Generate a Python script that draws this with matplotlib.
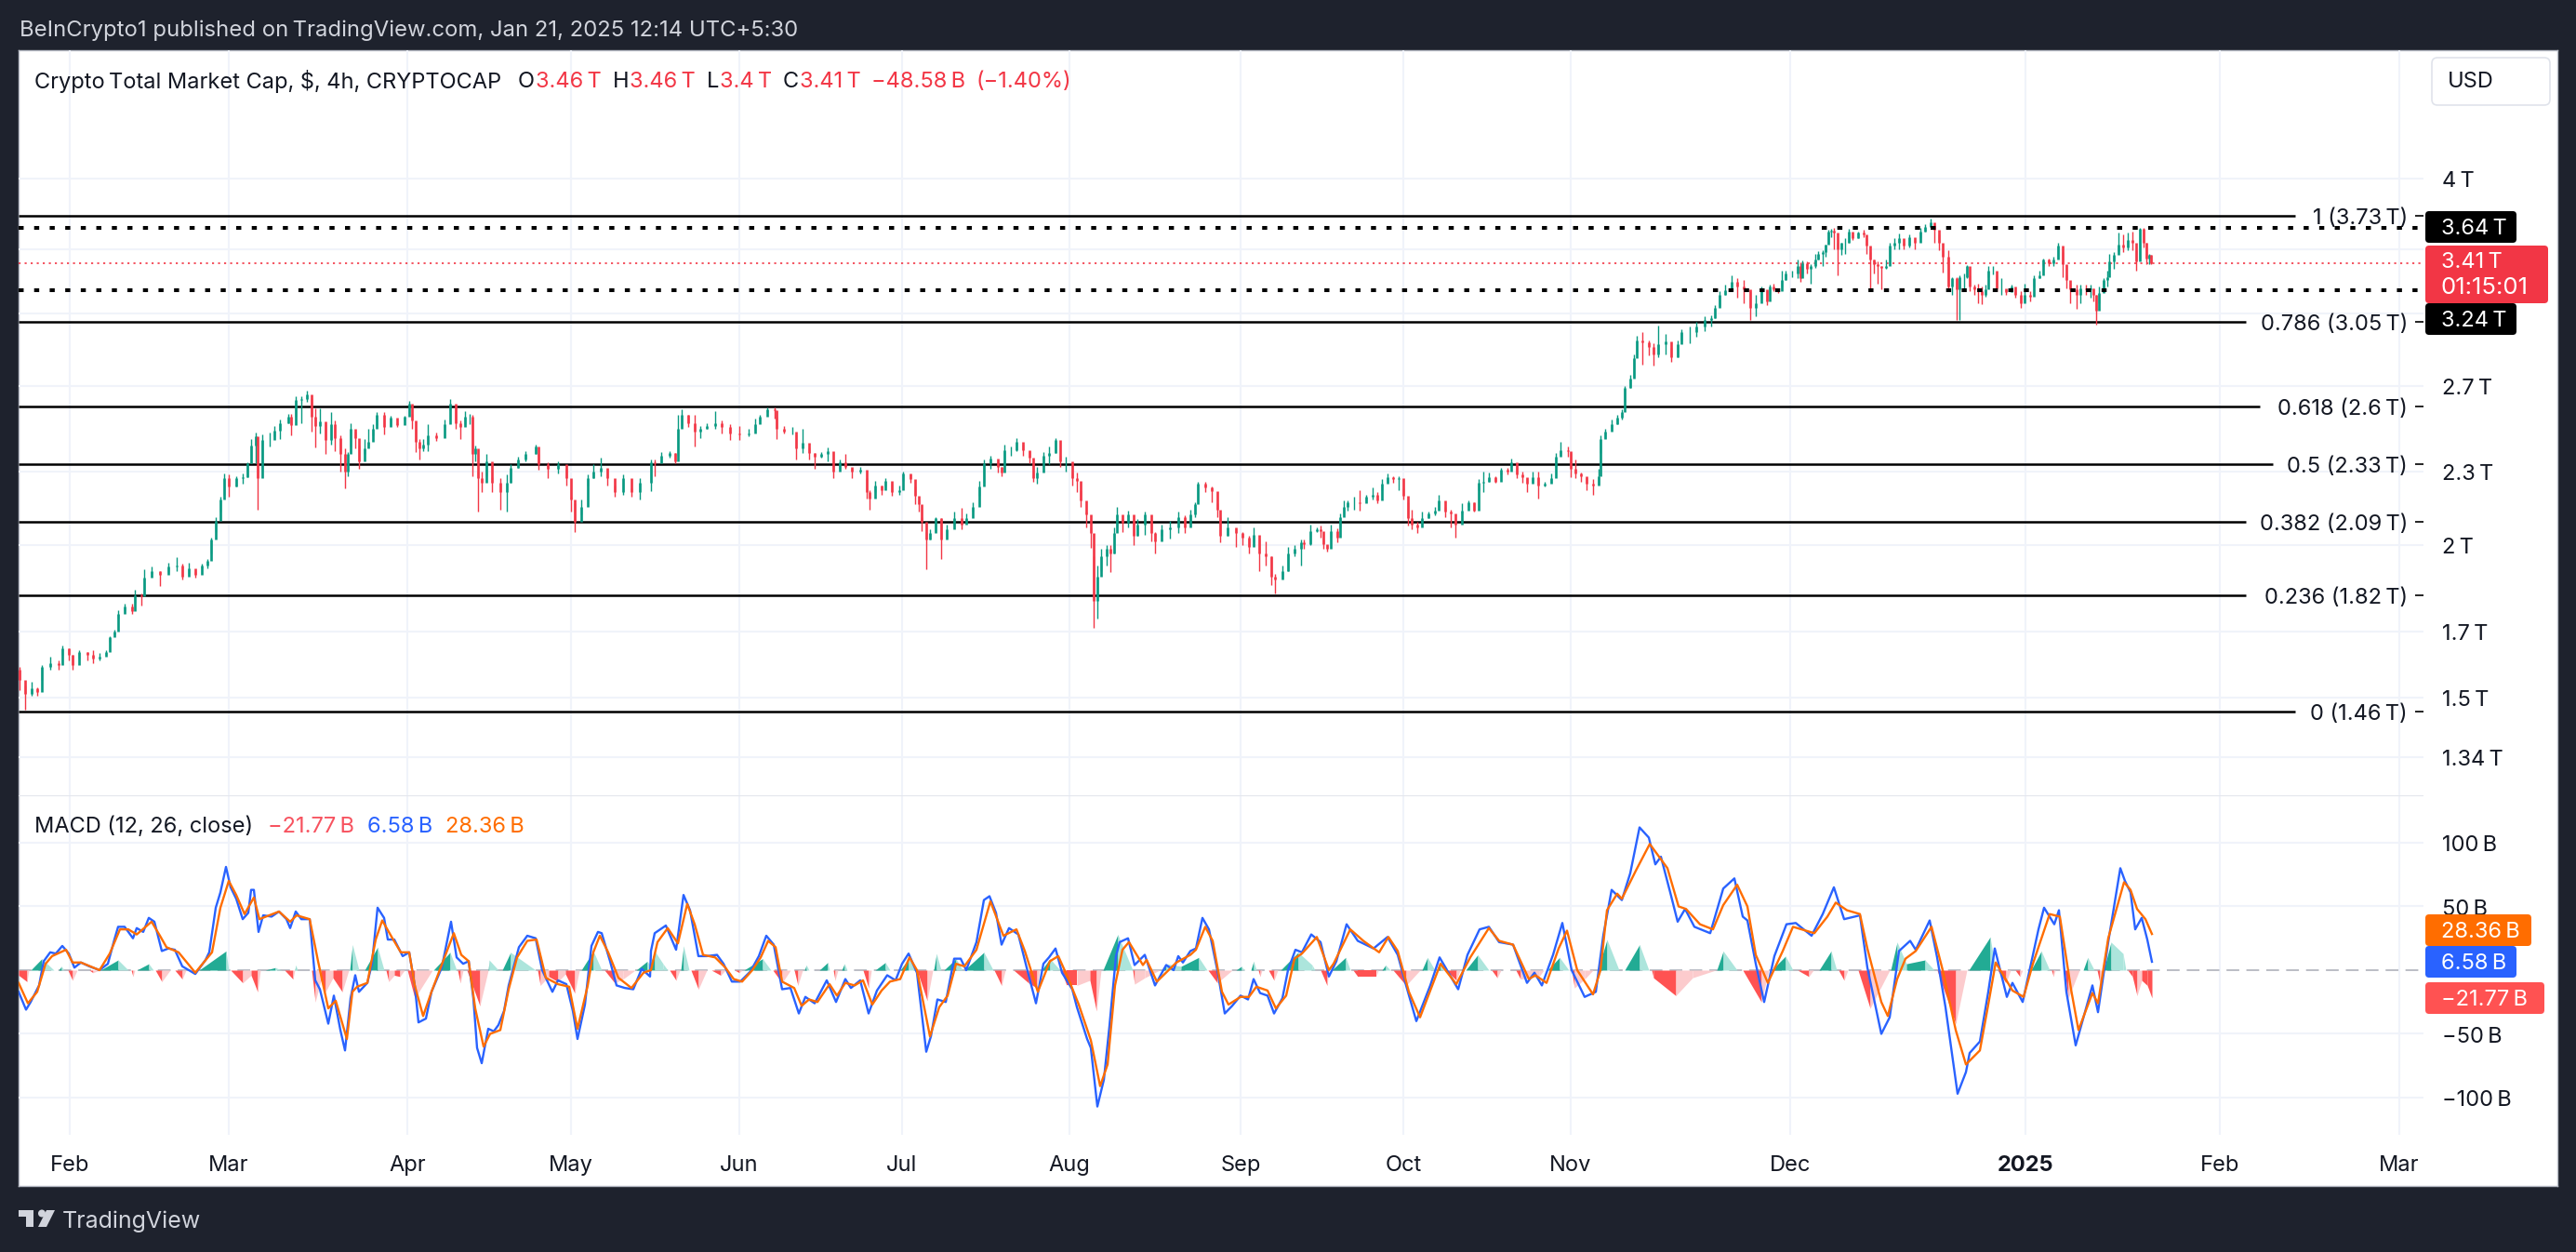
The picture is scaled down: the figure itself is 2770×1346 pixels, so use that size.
import matplotlib
matplotlib.use("Agg")
import matplotlib.pyplot as plt
from matplotlib.patches import FancyBboxPatch, Circle, Polygon
from matplotlib.ticker import NullLocator

W, H = 2770, 1346
FONT = ["Inter", "DejaVu Sans"]
plt.rcParams["font.family"] = FONT

DARK = "#1e222d"
GRID = "#f0f3fa"
UP = "#089981"
DOWN = "#f23645"
BLUE = "#2962ff"
ORANGE = "#ff6d00"
TS = "\u2009"

# ---------- 数据：K线 (时间位置, 收, 高, 低，单位 T) ----------
bar_t = [21, 27, 33.5, 40, 45, 54, 62.5, 67, 74, 78, 85, 94,
         100, 107, 114, 118, 123, 127, 134, 142, 145, 152, 155, 163,
         172, 181, 190, 196, 203, 210, 217, 223, 227, 232, 237, 241,
         246, 254, 261, 266, 270, 275, 277, 282, 290, 295, 301, 310,
         313, 318, 324, 330, 335, 339, 344, 350, 356, 360, 366, 371,
         374, 377, 382, 386, 392, 396, 401, 405, 413, 420, 427, 435,
         440, 443, 447, 451, 454.5, 460, 469, 478, 483.5, 490, 495, 500,
         505, 508, 511, 514, 518, 523, 529, 538, 545, 549, 557, 565,
         576, 579, 589, 600, 609, 614, 618, 625, 632, 638, 646, 653,
         661, 670, 679, 688,
         700, 704, 711, 720, 726, 729, 733, 740, 747, 753, 760, 769,
         776, 785, 795, 805, 812, 817, 825, 833, 835, 843, 852, 856,
         863, 870, 876, 883, 890, 896, 903, 909, 916, 925, 932, 935,
         941, 948, 952, 959, 967, 971, 979, 984, 988, 991, 996, 1000,
         1006, 1012, 1018, 1026, 1034, 1039, 1046, 1053, 1058, 1065, 1073, 1077,
         1080, 1087, 1093, 1100, 1107, 1111, 1115, 1122, 1128, 1135, 1140, 1146,
         1153, 1158, 1162, 1168, 1173, 1176, 1180, 1184, 1190, 1194, 1198, 1201,
         1207, 1213, 1219, 1223, 1231, 1238, 1242, 1249, 1258, 1267, 1274, 1280,
         1285, 1288, 1296, 1303, 1309, 1312, 1320, 1329, 1336, 1343, 1348, 1354,
         1361, 1367, 1371, 1379, 1385, 1392, 1399,
         1402, 1409, 1416, 1420, 1423, 1427, 1431, 1438, 1441, 1445, 1449, 1456,
         1462, 1469, 1476, 1481, 1486, 1492, 1498, 1504, 1509, 1514, 1518, 1524,
         1529, 1536, 1543, 1547, 1554, 1560, 1565, 1572, 1579, 1585, 1590, 1595,
         1601, 1608, 1614, 1621, 1625, 1631, 1637, 1642, 1648, 1654, 1661, 1668,
         1673, 1678, 1686, 1689, 1694, 1700, 1706, 1713, 1719, 1721, 1726, 1733,
         1739, 1744, 1747, 1753, 1757, 1760, 1766, 1773, 1778, 1783, 1791, 1797,
         1804, 1808, 1817, 1824, 1833, 1840, 1844, 1849, 1855, 1862, 1868, 1875,
         1882, 1888, 1894,
         1900, 1903, 1907, 1912, 1916, 1920, 1927, 1933, 1936, 1938, 1943, 1947,
         1952, 1955, 1960, 1963, 1966, 1969, 1972, 1976, 1980, 1984, 1988, 1992,
         1998, 2004, 2007, 2011, 2015, 2019, 2023, 2028, 2032, 2037, 2042, 2047,
         2053, 2059, 2065, 2070, 2076, 2080, 2085, 2089, 2095, 2099, 2104, 2107,
         2112, 2115, 2118, 2123, 2127, 2131, 2135, 2138, 2143, 2147, 2152, 2157,
         2163, 2167, 2173, 2177, 2183, 2187, 2193, 2197, 2203, 2208, 2213, 2218,
         2222, 2226, 2233, 2237, 2243, 2248, 2251, 2254, 2257, 2262, 2266, 2268,
         2273, 2278, 2283, 2288, 2293, 2297, 2301, 2305, 2308, 2311, 2313]
bar_close = [1.55, 1.51, 1.525, 1.515, 1.59, 1.60, 1.595, 1.645, 1.625, 1.595, 1.635, 1.625,
             1.615, 1.62, 1.635, 1.68, 1.70, 1.755, 1.78, 1.765, 1.82, 1.815, 1.88, 1.905,
             1.89, 1.92, 1.925, 1.885, 1.915, 1.89, 1.925, 1.94, 2.02, 2.095, 2.18, 2.27,
             2.235, 2.27, 2.275, 2.335, 2.415, 2.455, 2.27, 2.44, 2.44, 2.485, 2.52, 2.55,
             2.51, 2.63, 2.635, 2.66, 2.55, 2.505, 2.525, 2.44, 2.515, 2.45, 2.375, 2.30,
             2.375, 2.49, 2.45, 2.345, 2.40, 2.43, 2.49, 2.56, 2.50, 2.545, 2.51, 2.55,
             2.615, 2.53, 2.43, 2.40, 2.42, 2.46, 2.45, 2.515, 2.615, 2.52, 2.50, 2.55,
             2.55, 2.375, 2.40, 2.27, 2.25, 2.345, 2.25, 2.21, 2.25, 2.315, 2.35, 2.375,
             2.41, 2.33, 2.31, 2.33, 2.27, 2.18, 2.09, 2.15, 2.27, 2.30, 2.315, 2.27,
             2.21, 2.27, 2.21, 2.25,
             2.34, 2.335, 2.37, 2.38, 2.345, 2.49, 2.56, 2.52, 2.48, 2.49, 2.505, 2.52,
             2.50, 2.47, 2.465, 2.47, 2.515, 2.55, 2.585, 2.58, 2.49, 2.48, 2.48, 2.40,
             2.425, 2.38, 2.365, 2.375, 2.39, 2.30, 2.34, 2.32, 2.30, 2.305, 2.21, 2.185,
             2.24, 2.22, 2.26, 2.21, 2.22, 2.29, 2.265, 2.195, 2.16, 2.09, 2.02, 2.045,
             2.105, 2.02, 2.06, 2.105, 2.08, 2.105, 2.15, 2.235, 2.335, 2.355, 2.32, 2.295,
             2.395, 2.395, 2.43, 2.395, 2.36, 2.27, 2.295, 2.37, 2.38, 2.44, 2.345, 2.345,
             2.27, 2.26, 2.175, 2.12, 2.045, 1.80, 1.885, 1.96, 1.985, 1.97, 2.045, 2.12,
             2.085, 2.12, 2.035, 2.08, 2.12, 2.045, 2.015, 2.06, 2.07, 2.11, 2.07, 2.12,
             2.16, 2.245, 2.23, 2.215, 2.14, 2.035, 2.07, 2.045, 2.03, 1.995, 2.04, 1.97,
             1.96, 1.885, 1.875, 1.905, 1.97, 1.985, 2.01,
             2.005, 2.055, 2.06, 2.055, 2.005, 1.985, 2.055, 2.03, 2.11, 2.15, 2.17, 2.17,
             2.165, 2.19, 2.20, 2.175, 2.245, 2.275, 2.265, 2.27, 2.195, 2.105, 2.08, 2.07,
             2.105, 2.125, 2.135, 2.175, 2.13, 2.125, 2.08, 2.135, 2.17, 2.135, 2.25, 2.255,
             2.275, 2.255, 2.305, 2.30, 2.34, 2.285, 2.275, 2.245, 2.275, 2.24, 2.245, 2.27,
             2.365, 2.395, 2.39, 2.31, 2.29, 2.28, 2.245, 2.24, 2.28, 2.445, 2.48, 2.515,
             2.545, 2.57, 2.69, 2.74, 2.85, 2.945, 2.935, 2.91, 2.87, 2.925, 2.94, 2.855,
             2.925, 2.99, 2.99, 3.025, 3.06, 3.07, 3.13, 3.21, 3.24, 3.29, 3.26, 3.245,
             3.13, 3.16, 3.245,
             3.17, 3.26, 3.245, 3.23, 3.30, 3.34, 3.34, 3.39, 3.31, 3.41, 3.37, 3.39,
             3.43, 3.47, 3.48, 3.53, 3.62, 3.625, 3.61, 3.50, 3.54, 3.54, 3.62, 3.57,
             3.61, 3.60, 3.52, 3.43, 3.40, 3.39, 3.38, 3.39, 3.52, 3.54, 3.57, 3.52,
             3.58, 3.54, 3.62, 3.65, 3.68, 3.63, 3.54, 3.45, 3.26, 3.31, 3.245, 3.32,
             3.32, 3.39, 3.26, 3.245, 3.23, 3.21, 3.245, 3.36, 3.36, 3.25, 3.25, 3.225,
             3.26, 3.21, 3.16, 3.21, 3.20, 3.31, 3.33, 3.43, 3.41, 3.43, 3.52, 3.40,
             3.30, 3.245, 3.21, 3.25, 3.245, 3.25, 3.21, 3.115, 3.22, 3.30, 3.32, 3.42,
             3.46, 3.53, 3.51, 3.56, 3.54, 3.42, 3.635, 3.54, 3.44, 3.46, 3.41]
bar_high = [1.59, 1.535, 1.545, 1.53, 1.595, 1.62, 1.61, 1.655, 1.645, 1.625, 1.64, 1.635,
            1.64, 1.63, 1.64, 1.685, 1.705, 1.77, 1.79, 1.79, 1.84, 1.825, 1.91, 1.92,
            1.905, 1.935, 1.955, 1.93, 1.935, 1.905, 1.93, 1.95, 2.03, 2.11, 2.19, 2.29,
            2.285, 2.28, 2.29, 2.34, 2.445, 2.475, 2.33, 2.465, 2.475, 2.505, 2.535, 2.565,
            2.565, 2.65, 2.65, 2.68, 2.64, 2.59, 2.59, 2.515, 2.57, 2.53, 2.46, 2.40,
            2.385, 2.52, 2.48, 2.415, 2.445, 2.49, 2.515, 2.57, 2.57, 2.555, 2.52, 2.555,
            2.625, 2.565, 2.49, 2.445, 2.445, 2.515, 2.475, 2.535, 2.635, 2.595, 2.53, 2.575,
            2.565, 2.56, 2.415, 2.30, 2.30, 2.375, 2.275, 2.27, 2.285, 2.33, 2.365, 2.39,
            2.42, 2.375, 2.34, 2.345, 2.31, 2.19, 2.165, 2.18, 2.285, 2.33, 2.36, 2.31,
            2.24, 2.285, 2.225, 2.27,
            2.35, 2.35, 2.385, 2.39, 2.38, 2.56, 2.585, 2.56, 2.56, 2.505, 2.52, 2.575,
            2.53, 2.515, 2.505, 2.49, 2.54, 2.56, 2.595, 2.595, 2.55, 2.505, 2.50, 2.465,
            2.49, 2.405, 2.38, 2.385, 2.405, 2.33, 2.35, 2.375, 2.31, 2.32, 2.27, 2.22,
            2.26, 2.24, 2.27, 2.245, 2.24, 2.30, 2.285, 2.235, 2.18, 2.11, 2.05, 2.06,
            2.11, 2.105, 2.08, 2.13, 2.145, 2.125, 2.17, 2.26, 2.35, 2.37, 2.345, 2.32,
            2.42, 2.41, 2.45, 2.42, 2.39, 2.335, 2.32, 2.385, 2.41, 2.45, 2.37, 2.365,
            2.295, 2.295, 2.22, 2.13, 2.07, 1.96, 1.925, 1.985, 2.00, 2.00, 2.07, 2.15,
            2.105, 2.135, 2.09, 2.10, 2.13, 2.085, 2.05, 2.08, 2.095, 2.13, 2.115, 2.14,
            2.17, 2.255, 2.255, 2.235, 2.165, 2.11, 2.11, 2.06, 2.05, 2.035, 2.07, 2.02,
            2.015, 1.96, 1.895, 1.925, 1.995, 2.0, 2.02,
            2.02, 2.08, 2.07, 2.075, 2.02, 2.00, 2.08, 2.065, 2.125, 2.175, 2.175, 2.19,
            2.22, 2.20, 2.23, 2.21, 2.265, 2.29, 2.28, 2.28, 2.225, 2.17, 2.14, 2.09,
            2.13, 2.13, 2.15, 2.20, 2.15, 2.14, 2.095, 2.165, 2.175, 2.17, 2.265, 2.30,
            2.295, 2.28, 2.315, 2.315, 2.355, 2.32, 2.30, 2.27, 2.30, 2.30, 2.255, 2.29,
            2.38, 2.43, 2.41, 2.38, 2.35, 2.295, 2.27, 2.265, 2.31, 2.46, 2.49, 2.535,
            2.56, 2.585, 2.70, 2.76, 2.87, 2.97, 2.99, 2.945, 2.93, 3.03, 2.98, 2.905,
            2.945, 3.01, 3.025, 3.05, 3.08, 3.09, 3.15, 3.23, 3.27, 3.33, 3.31, 3.30,
            3.225, 3.21, 3.26,
            3.23, 3.27, 3.28, 3.245, 3.36, 3.36, 3.36, 3.43, 3.415, 3.425, 3.42, 3.40,
            3.47, 3.485, 3.49, 3.53, 3.63, 3.635, 3.64, 3.54, 3.54, 3.57, 3.635, 3.60,
            3.62, 3.63, 3.57, 3.48, 3.43, 3.42, 3.39, 3.43, 3.54, 3.57, 3.605, 3.54,
            3.60, 3.56, 3.64, 3.67, 3.71, 3.66, 3.60, 3.49, 3.49, 3.32, 3.32, 3.33,
            3.34, 3.395, 3.33, 3.27, 3.28, 3.26, 3.27, 3.39, 3.39, 3.33, 3.31, 3.245,
            3.27, 3.245, 3.235, 3.28, 3.235, 3.33, 3.36, 3.44, 3.44, 3.45, 3.54, 3.48,
            3.33, 3.28, 3.27, 3.27, 3.27, 3.27, 3.25, 3.21, 3.26, 3.31, 3.36, 3.47,
            3.48, 3.61, 3.60, 3.61, 3.62, 3.49, 3.64, 3.64, 3.54, 3.47, 3.46]
bar_low = [1.52, 1.465, 1.505, 1.505, 1.55, 1.58, 1.58, 1.625, 1.61, 1.58, 1.615, 1.61,
           1.60, 1.61, 1.625, 1.665, 1.69, 1.74, 1.77, 1.757, 1.795, 1.785, 1.82, 1.895,
           1.85, 1.90, 1.905, 1.875, 1.895, 1.88, 1.915, 1.915, 1.97, 2.05, 2.13, 2.20,
           2.19, 2.235, 2.245, 2.275, 2.335, 2.335, 2.14, 2.305, 2.41, 2.455, 2.445, 2.52,
           2.46, 2.55, 2.52, 2.62, 2.48, 2.405, 2.47, 2.375, 2.42, 2.39, 2.30, 2.225,
           2.28, 2.41, 2.40, 2.31, 2.375, 2.41, 2.46, 2.51, 2.465, 2.505, 2.50, 2.535,
           2.60, 2.49, 2.385, 2.35, 2.39, 2.39, 2.435, 2.50, 2.58, 2.49, 2.445, 2.515,
           2.515, 2.28, 2.345, 2.13, 2.21, 2.28, 2.21, 2.14, 2.13, 2.25, 2.315, 2.345,
           2.375, 2.305, 2.27, 2.29, 2.24, 2.13, 2.05, 2.12, 2.24, 2.27, 2.28, 2.24,
           2.19, 2.20, 2.19, 2.18,
           2.215, 2.28, 2.34, 2.36, 2.335, 2.37, 2.505, 2.50, 2.41, 2.45, 2.49, 2.49,
           2.47, 2.44, 2.44, 2.455, 2.485, 2.53, 2.57, 2.54, 2.445, 2.47, 2.465, 2.35,
           2.38, 2.35, 2.31, 2.36, 2.345, 2.27, 2.31, 2.31, 2.27, 2.29, 2.185, 2.14,
           2.21, 2.20, 2.235, 2.195, 2.20, 2.26, 2.25, 2.16, 2.13, 2.055, 1.91, 2.02,
           2.055, 1.95, 2.03, 2.08, 2.06, 2.09, 2.13, 2.195, 2.25, 2.31, 2.295, 2.28,
           2.335, 2.37, 2.39, 2.37, 2.335, 2.255, 2.245, 2.35, 2.33, 2.38, 2.32, 2.30,
           2.24, 2.21, 2.15, 2.07, 1.99, 1.71, 1.74, 1.905, 1.925, 1.90, 1.97, 2.07,
           2.05, 2.07, 2.0, 2.035, 2.04, 2.015, 1.97, 2.035, 2.025, 2.045, 2.045, 2.085,
           2.11, 2.17, 2.21, 2.17, 2.11, 2.01, 2.035, 1.995, 2.00, 1.97, 2.01, 1.905,
           1.925, 1.855, 1.825, 1.88, 1.905, 1.96, 1.925,
           1.985, 2.00, 2.05, 2.03, 1.985, 1.975, 2.03, 2.01, 2.07, 2.125, 2.135, 2.14,
           2.135, 2.17, 2.18, 2.165, 2.22, 2.255, 2.25, 2.22, 2.18, 2.075, 2.06, 2.045,
           2.08, 2.105, 2.115, 2.14, 2.11, 2.07, 2.03, 2.125, 2.15, 2.13, 2.22, 2.21,
           2.255, 2.25, 2.285, 2.285, 2.32, 2.27, 2.25, 2.21, 2.255, 2.185, 2.235, 2.25,
           2.32, 2.375, 2.365, 2.275, 2.27, 2.255, 2.22, 2.20, 2.245, 2.38, 2.45, 2.49,
           2.515, 2.535, 2.62, 2.69, 2.75, 2.87, 2.815, 2.865, 2.81, 2.855, 2.87, 2.83,
           2.855, 2.945, 2.93, 2.965, 2.995, 3.025, 3.07, 3.14, 3.21, 3.245, 3.19, 3.16,
           3.06, 3.085, 3.19,
           3.15, 3.21, 3.23, 3.22, 3.26, 3.30, 3.32, 3.31, 3.29, 3.34, 3.34, 3.28,
           3.38, 3.43, 3.39, 3.45, 3.54, 3.58, 3.50, 3.33, 3.46, 3.465, 3.54, 3.56,
           3.57, 3.58, 3.47, 3.245, 3.34, 3.28, 3.245, 3.37, 3.44, 3.50, 3.50, 3.50,
           3.51, 3.50, 3.57, 3.62, 3.65, 3.54, 3.49, 3.35, 3.24, 3.21, 3.06, 3.06,
           3.245, 3.31, 3.23, 3.21, 3.16, 3.155, 3.20, 3.32, 3.335, 3.235, 3.21, 3.21,
           3.235, 3.19, 3.13, 3.17, 3.17, 3.26, 3.31, 3.39, 3.39, 3.39, 3.44, 3.32,
           3.25, 3.16, 3.125, 3.16, 3.21, 3.195, 3.17, 3.035, 3.16, 3.245, 3.26, 3.37,
           3.37, 3.485, 3.48, 3.49, 3.49, 3.36, 3.44, 3.51, 3.40, 3.40, 3.40]
first_open = 1.58

# ---------- 斐波那契与水平线 ----------
fib_levels = [3.73, 3.05, 2.60, 2.33, 2.09, 1.82, 1.46]
fib_labels = ["1 (3.73 T)", "0.786 (3.05 T)", "0.618 (2.6 T)", "0.5 (2.33 T)",
              "0.382 (2.09 T)", "0.236 (1.82 T)", "0 (1.46 T)"]
fib_ends = [2468, 2415, 2430, 2444, 2415, 2415, 2468]
dotted_levels = [3.64, 3.24]
last_price = 3.41

price_ticks = [4, 3.5, 3.1, 2.7, 2.3, 2, 1.7, 1.5, 1.34]
price_labels = ["4 T", "", "", "2.7 T", "2.3 T", "2 T", "1.7 T", "1.5 T", "1.34 T"]
month_t = [75, 246, 438, 614, 795, 970, 1150, 1334, 1509, 1689, 1925, 2178, 2387, 2580]
month_labels = ["Feb", "Mar", "Apr", "May", "Jun", "Jul", "Aug", "Sep", "Oct", "Nov", "Dec", "2025", "Feb", "Mar"]

# ---------- MACD ----------
macd_t = [20, 28, 33, 42, 47, 54, 60, 67, 74, 80, 87, 96, 107, 116, 123, 127, 134, 143, 147, 154,
          160, 166, 174, 181, 188, 196, 210, 221, 225, 232, 237, 243, 248, 254, 261, 267, 270, 273, 278, 283,
          292, 300, 308, 312, 318, 324, 333, 339, 344, 348, 353, 359, 366, 371, 377, 382, 386, 395, 400, 406,
          413, 417, 424, 433, 440, 446, 450, 458, 464, 475, 482, 485, 491, 498, 504, 509, 513, 518, 525, 531,
          536, 542, 547, 558, 567, 576, 583, 594, 600, 609, 616, 621, 629, 636, 643, 647, 656, 663, 672, 681,
          690, 699,
          700, 704, 716, 727, 735, 742, 751, 760, 771, 778, 787, 796, 807, 816, 824, 832, 841, 850, 859, 866,
          876, 889, 899, 909, 915, 925, 934, 943, 954, 963, 970, 977, 986, 996, 1001, 1008, 1017, 1026, 1033, 1039,
          1050, 1058, 1064, 1071, 1077, 1085, 1095, 1104, 1114, 1122, 1128, 1135, 1142, 1153, 1158, 1169, 1173, 1180, 1187, 1193,
          1200, 1204, 1213, 1220, 1231, 1242, 1254, 1262, 1267, 1272, 1280, 1286, 1293, 1300, 1309, 1317, 1325, 1334, 1342, 1348,
          1355, 1363, 1370, 1379, 1385, 1393, 1400,
          1410, 1420, 1429, 1437, 1448, 1460, 1477, 1492, 1503, 1512, 1523, 1538, 1548, 1568, 1578, 1591, 1601, 1612, 1627, 1642,
          1650, 1658, 1670, 1680, 1690, 1704, 1716, 1724, 1733, 1744, 1753, 1763, 1773, 1780, 1786, 1796, 1804, 1812, 1822, 1839,
          1853, 1865, 1874, 1879, 1888, 1897, 1908, 1921, 1931, 1948, 1960, 1972, 1983, 2000, 2008, 2023, 2032, 2042, 2054, 2060,
          2075, 2083, 2092, 2105, 2114, 2118, 2129, 2138, 2145, 2158, 2164, 2175, 2192, 2198, 2209, 2214, 2222, 2232, 2250, 2256,
          2267, 2280, 2285, 2291, 2296, 2303, 2309, 2314]
macd_v = [-17, -31, -25, -12, 7, 14, 13, 19, 13, 2, 6, 3, 0, 5, 24, 34, 34, 25, 33, 30,
          41, 38, 15, 17, 16, 3, -3, 8, 14, 49, 61, 81, 65, 56, 40, 45, 63, 63, 30, 43,
          42, 46, 40, 33, 46, 40, 40, -8, -15, -27, -42, -20, -47, -63, -22, -4, -17, -10, 5, 49,
          41, 24, 24, 11, 14, -12, -41, -38, -17, 2, 27, 38, 10, 5, 7, -22, -61, -73, -46, -48,
          -43, -32, -12, 18, 27, 25, 0, -17, -8, -11, -32, -54, -27, 19, 30, 29, 7, -12, -14, -15,
          1, -5,
          15, 29, 35, 16, 59, 47, 11, 11, 12, 5, -9, -9, -1, 11, 27, 20, -15, -14, -34, -21,
          -26, -8, -25, -7, -14, -8, -34, -16, -4, -8, 5, 13, -2, -64, -52, -23, -25, 9, 9, 0,
          22, 55, 58, 45, 20, 33, 28, 2, -26, 5, 10, 17, -2, -15, -29, -54, -61, -107, -86, -44,
          11, 22, 25, 4, 12, -12, 4, 0, 11, 6, 15, 17, 41, 32, 0, -34, -28, -20, -23, -7,
          -18, -20, -34, -22, 0, 16, 14,
          28, 22, -5, 7, 36, 23, 17, 26, 12, -12, -40, -12, 10, -15, 12, 32, 34, 22, 20, -10,
          -2, -12, 12, 37, 0, -21, -17, 27, 63, 55, 76, 112, 104, 83, 89, 61, 38, 48, 34, 29,
          64, 72, 42, 39, 5, -25, 11, 36, 37, 27, 44, 65, 40, 43, 2, -50, -37, 15, 23, 16,
          39, 10, -29, -97, -80, -65, -56, -17, 17, -21, -10, -25, 32, 49, 36, 47, -17, -59, -12, -33,
          22, 80, 70, 61, 32, 41, 24, 6.58]

signal_t = [20, 30, 40, 49, 56, 71, 78, 87, 107, 118, 129, 138, 147, 163, 172, 179, 192, 210, 228, 237,
            246, 254, 263, 273, 279, 300, 312, 319, 333, 342, 353, 361, 373, 379, 384, 395, 404, 411, 422, 431,
            440, 446, 455, 464, 478, 488, 496, 504, 511, 520, 527, 538, 547, 556, 567, 577, 587, 600, 612, 621,
            632, 638, 645, 654, 665, 679, 692,
            700, 707, 718, 729, 739, 747, 756, 769, 780, 789, 798, 809, 818, 826, 834, 841, 854, 862, 870, 879,
            892, 900, 909, 919, 928, 938, 948, 957, 968, 978, 986, 1000, 1010, 1019, 1028, 1037, 1050, 1065, 1079, 1093,
            1102, 1116, 1129, 1138, 1149, 1160, 1173, 1183, 1191, 1199, 1207, 1214, 1229, 1233, 1244, 1265, 1280, 1286, 1296, 1304,
            1314, 1321, 1334, 1343, 1351, 1363, 1372, 1383, 1392, 1400,
            1416, 1429, 1434, 1452, 1466, 1483, 1493, 1503, 1515, 1527, 1549, 1566, 1581, 1601, 1612, 1627, 1644, 1651, 1663, 1676,
            1685, 1696, 1713, 1721, 1728, 1739, 1744, 1759, 1774, 1785, 1793, 1805, 1813, 1828, 1842, 1853, 1868, 1879, 1888, 1901,
            1917, 1928, 1951, 1965, 1974, 1986, 2000, 2008, 2023, 2030, 2040, 2049, 2060, 2077, 2089, 2103, 2114, 2129, 2138, 2146,
            2164, 2176, 2186, 2204, 2215, 2227, 2235, 2250, 2256, 2267, 2284, 2291, 2298, 2307, 2314]
signal_v = [-10, -26, -17, 5, 11, 16, 6, 6, 0, 13, 32, 32, 28, 38, 27, 18, 14, -2, 14, 49,
            70, 59, 44, 57, 40, 46, 38, 43, 40, 7, -30, -24, -54, -17, -13, -10, 24, 39, 25, 14,
            14, -12, -36, -17, 10, 29, 12, 7, -30, -60, -50, -47, -15, 10, 23, 24, -6, -11, -13, -46,
            -12, 14, 27, 14, -6, -14, -2,
            0, 22, 33, 21, 52, 36, 12, 10, 2, -7, -9, 0, 10, 23, 18, -9, -14, -28, -23, -25,
            -11, -20, -10, -12, -8, -27, -16, -9, -7, 10, 0, -52, -29, -20, 5, 3, 16, 54, 27, 32,
            15, -17, 7, 11, -7, -27, -55, -91, -74, -12, 16, 22, 4, 8, -9, 6, 12, 16, 34, 23,
            -17, -27, -21, -21, -13, -16, -30, -20, 9, 13,
            26, 0, 5, 32, 23, 14, 26, 15, -17, -37, 5, -11, 10, 33, 23, 20, -7, -4, -10, 17,
            31, 0, -19, 0, 47, 60, 56, 78, 99, 88, 80, 50, 48, 36, 32, 51, 67, 50, 12, -10,
            15, 34, 29, 42, 53, 47, 44, 17, -25, -36, -7, 9, 15, 34, 0, -47, -74, -63, -27, 6,
            -16, -21, 5, 44, 42, -15, -47, -18, -26, 25, 69, 63, 48, 40, 28.36]

hist_t = [20, 29, 31, 33, 45, 58, 63, 66, 69, 73, 78, 83, 96, 100, 107, 108, 127, 138, 141, 143, 145, 147, 160, 165,
          167, 174, 183, 188, 196, 200, 205, 208, 212, 214, 243, 246, 248, 261, 270, 277, 280, 285, 296, 303, 306, 315,
          317, 318, 320, 335, 339, 345, 350, 358, 368, 375, 376, 379, 386, 392, 406, 413, 415, 418, 424, 430, 435, 438,
          446, 465, 466, 484, 491, 492, 495, 498, 502, 516, 525, 526, 536, 540, 549, 576, 578, 581, 590, 600, 608, 618,
          623, 625, 638, 647, 650, 661, 670, 683, 684, 696, 699, 704, 713, 718, 720, 727, 731, 732, 735, 741, 743, 751,
          760, 765, 775, 780, 790, 795, 798, 800, 820, 829, 831, 841, 850, 854, 858, 863, 865, 867, 870, 881, 890, 892,
          896, 898, 901, 905, 908, 911, 928, 934, 937, 941, 952, 957, 968, 977, 985, 986, 997, 1003, 1004, 1007, 1012, 1015,
          1028, 1035, 1037, 1058, 1068, 1069, 1077, 1081, 1090, 1106, 1115, 1118, 1120, 1129, 1140, 1141, 1147, 1158, 1172, 1179,
          1184, 1186, 1202, 1218, 1220, 1231, 1247, 1249, 1254, 1270, 1289, 1298, 1299, 1309, 1325, 1329, 1335, 1338, 1345, 1348,
          1351, 1353, 1355, 1357, 1364, 1370, 1374, 1377, 1396, 1411, 1414, 1420, 1427, 1429, 1432, 1447, 1452, 1455, 1460, 1480,
          1482, 1486, 1490, 1495, 1498, 1512, 1527, 1529, 1535, 1543, 1545, 1549, 1552, 1555, 1566, 1570, 1576, 1589, 1601, 1604,
          1610, 1614, 1630, 1635, 1655, 1660, 1664, 1677, 1687, 1690, 1693, 1704, 1713, 1718, 1728, 1741, 1747, 1763, 1773, 1776,
          1778, 1802, 1820, 1845, 1846, 1853, 1868, 1874, 1894, 1902, 1905, 1920, 1928, 1933, 1945, 1950, 1956, 1969, 1975, 1977,
          1983, 1987, 1998, 2011, 2032, 2033, 2040, 2050, 2070, 2080, 2083, 2103, 2115, 2117, 2140, 2146, 2148, 2157, 2162, 2167,
          2172, 2175, 2184, 2195, 2204, 2206, 2208, 2210, 2220, 2224, 2236, 2240, 2245, 2252, 2255, 2258, 2260, 2262, 2270, 2283,
          2286, 2288, 2293, 2298, 2303, 2309, 2314]
hist_v = [-4, -9, 0, 0, 9, 0, 0, 3, 0, 0, -8, 0, 0, -2, 0, 0, 8, 0, 0, -5, 0, 0, 5, 0,
          0, -9, 0, 0, -7, 0, 0, -3, 0, 0, 15, 0, 0, -10, -4, -17, 0, 0, 2, 0, 0, -7,
          0, 4, 0, 0, -25, -8, -17, -6, -17, 0, 0, 20, 0, 0, 18, 0, 0, -9, -4, -5, 0, 0,
          -22, 0, 0, 14, 0, 0, -10, 0, 0, -28, 0, 8, 0, 0, 14, 0, 0, -12, -5, -9, -3, -18,
          0, 0, 15, 0, 0, -10, -7, 0, 0, 7, 4, 15, 5, 0, 0, -8, 0, 0, 19, 0, 0, -15,
          0, 0, -4, 0, 0, -2, 0, 0, 9, 0, 0, -10, 0, 0, -12, 0, 0, 4, 0, 0, 6, 0,
          0, -8, 0, 0, 5, 0, 0, -14, 0, 0, 6, 0, 0, 9, 0, 0, -24, 0, 0, 13, 0, 0,
          9, 0, 0, 14, 0, 0, -12, 0, 0, -10, -14, 0, 0, 9, 0, 0, -12, -12, -8, -32,
          0, 0, 28, 0, -11, -6, 0, 0, 5, 3, 10, 0, 0, -10, 0, 0, 3, 0, 0, 7,
          0, 0, -5, 0, 0, -8, 0, 0, 14, 4, 0, 0, -12, 0, 0, 10, 0, 0, -5, -5,
          0, 0, 4, 0, 0, -12, 0, 0, 10, 0, 0, 7, 0, 0, -8, 0, 0, 12, 0, 0,
          -6, 0, 0, -7, -5, 0, 0, 10, 0, 0, -14, -7, 0, 0, 24, 0, 0, 20, 0, 0,
          -6, -20, -6, 0, 0, 15, 0, 0, -25, 0, 0, 11, 0, 0, -5, 0, 0, 15, 0, 0,
          -8, 0, 0, -30, 0, 0, 22, 5, 8, 0, 0, -42, 0, 0, 26, 0, 0, -10, 0, 0,
          -5, 0, 0, 15, 0, 0, -5, 0, 0, -22, 0, 0, 10, 0, 0, -10, 0, 0, 22, 13,
          0, 0, -5, -20, -8, -12, -21.77]
macd_ticks = [100, 50, -50, -100]
macd_tick_labels = ["100 B", "50 B", "\u221250 B", "\u2212100 B"]


def px_rect(x0, y0, x1, y1):
    return [x0 / W, 1 - y1 / H, (x1 - x0) / W, (y1 - y0) / H]


def thin(s):
    return s.replace(" T", TS + "T").replace(" B", TS + "B")


fig = plt.figure(figsize=(W / 100, H / 100), dpi=100, facecolor=DARK)

# 白色面板
bg = fig.add_axes(px_rect(20, 54, 2750, 1275), facecolor="white")
bg.set_xticks([])
bg.set_yticks([])
for s in bg.spines.values():
    s.set_color("#b8bcc6")
    s.set_linewidth(1)

ax = fig.add_axes(px_rect(20, 54, 2606, 855), facecolor="none")
ax2 = fig.add_axes(px_rect(20, 855, 2606, 1220), facecolor="none", sharex=ax)

ax.set_yscale("log")
ax.set_ylim(1.2467, 5.096)
ax.set_xlim(20, 2606)
ax2.set_ylim(-129.2, 137.2)

for a in (ax, ax2):
    for s in a.spines.values():
        s.set_visible(False)
    a.tick_params(length=0, labelbottom=False, labelleft=False)
    for t in month_t:
        a.axvline(t, color=GRID, lw=1.5, zorder=0)

ax.set_xticks(month_t)
ax.yaxis.set_major_locator(NullLocator())
ax.yaxis.set_minor_locator(NullLocator())
ax2.set_yticks([])
for p in price_ticks:
    ax.axhline(p, color=GRID, lw=1.5, zorder=0)
for v in macd_ticks:
    ax2.axhline(v, color=GRID, lw=1.5, zorder=0)
ax2.axhline(137.2, color="#e4e6ec", lw=1.5, zorder=0)


def side_label(a, x, y, s, ha="left", dy=-2.2):
    # 轴外标签：x 在时间坐标，y 在数值坐标
    a.annotate(thin(s), (x, y), xytext=(0, dy), textcoords="offset points", annotation_clip=False,
               color="#131722", fontsize=17, ha=ha, va="center")


# 斐波那契线
for lv, end, lab in zip(fib_levels, fib_ends, fib_labels):
    ax.plot([20, end], [lv, lv], color="black", lw=1.8, zorder=2, solid_capstyle="butt")
    ax.plot([2597, 2606], [lv, lv], color="black", lw=1.2, zorder=2, solid_capstyle="butt")
    side_label(ax, 2589, lv, lab, ha="right")

for p, s in zip(price_ticks, price_labels):
    if s:
        side_label(ax, 2626, p, s)

ax.plot([20, 2606], [last_price, last_price], color=DOWN, lw=1.2, ls=(0, (1.3, 2.6)), zorder=2)

# K线
opens = [first_open] + bar_close[:-1]
colors = [UP if c >= o else DOWN for o, c in zip(opens, bar_close)]
ax.vlines(bar_t, bar_low, bar_high, colors=colors, lw=1.0, zorder=3)
ax.vlines(bar_t, opens, bar_close, colors=colors, lw=1.9, zorder=3)

for lv in dotted_levels:
    ax.plot([20, 2606], [lv, lv], color="black", lw=2.9, ls=(0, (1.35, 2.8)), zorder=4)

# MACD 柱
ax2.plot([20, 2606], [0, 0], color="#a8abb5", lw=1.1, ls=(0, (9, 5)), zorder=1)
for i in range(len(hist_t) - 1):
    v0, v1 = hist_v[i], hist_v[i + 1]
    if v0 == 0 and v1 == 0:
        continue
    grow = abs(v1) >= abs(v0)
    if v0 + v1 > 0:
        c = "#22ab94" if grow else "#ace5dc"
    else:
        c = "#ff5252" if grow else "#fccbcd"
    ax2.fill_between(hist_t[i:i + 2], hist_v[i:i + 2], 0, color=c, lw=0, zorder=1.5)

ax2.plot(macd_t, macd_v, color=BLUE, lw=1.7, zorder=3, solid_joinstyle="round")
ax2.plot(signal_t, signal_v, color=ORANGE, lw=1.7, zorder=4, solid_joinstyle="round")

for v, s in zip(macd_ticks, macd_tick_labels):
    side_label(ax2, 2626, v, s)

# 文字、标签覆盖层（像素坐标）
ov = fig.add_axes([0, 0, 1, 1], facecolor="none")
ov.set_xlim(0, W)
ov.set_ylim(H, 0)
ov.axis("off")

FS = 17


def label(x, y, s, color="#131722", size=FS, ha="left", **kw):
    ov.text(x, y, thin(s), color=color, fontsize=size, ha=ha, va="center", **kw)


def box(x0, y0, x1, y1, color):
    ov.add_patch(FancyBboxPatch((x0, y0), x1 - x0, y1 - y0, boxstyle="round,pad=0,rounding_size=4",
                                fc=color, ec="none", zorder=5))


label(21, 33, "BeInCrypto1 published on TradingView.com, Jan 21, 2025 12:14 UTC+5:30", color="#d1d4dc", size=17.2)
label(37, 88, "Crypto Total Market Cap, $, 4h, CRYPTOCAP")
for x, s, c in [(557, "O", "#131722"), (576, "3.46 T", DOWN), (659, "H", "#131722"), (677, "3.46 T", DOWN),
                (760, "L", "#131722"), (774, "3.4 T", DOWN), (842, "C", "#131722"), (860, "3.41 T", DOWN),
                (937, "\u221248.58 B", DOWN), (1049, "(\u22121.40%)", DOWN)]:
    label(x, 88, s, color=c)

box(2608, 227, 2706, 261, "black")
box(2608, 264, 2740, 326, DOWN)
box(2608, 326, 2706, 360, "black")
ov.text(2625, 246, "3.64" + TS + "T", color="white", fontsize=FS, va="center", zorder=6)
ov.text(2625, 282, "3.41" + TS + "T", color="white", fontsize=FS, va="center", zorder=6)
ov.text(2625, 310, "01:15:01", color="white", fontsize=18.5, va="center", zorder=6)
ov.text(2625, 345, "3.24" + TS + "T", color="white", fontsize=FS, va="center", zorder=6)

ov.add_patch(FancyBboxPatch((2615, 62), 127, 51, boxstyle="round,pad=0,rounding_size=6",
                            fc="white", ec="#e0e3eb", lw=1.2))
label(2632, 88, "USD")

box(2608, 983, 2722, 1017, ORANGE)
box(2608, 1017, 2706, 1051, BLUE)
box(2608, 1056, 2736, 1090, "#ff5252")
ov.text(2625, 1002, "28.36" + TS + "B", color="white", fontsize=FS, va="center", zorder=6)
ov.text(2625, 1036, "6.58" + TS + "B", color="white", fontsize=FS, va="center", zorder=6)
ov.text(2625, 1075, "\u221221.77" + TS + "B", color="white", fontsize=FS, va="center", zorder=6)

label(37, 889, "MACD (12, 26, close)")
label(288, 889, "\u221221.77 B", color="#f7525f")
label(395, 889, "6.58 B", color=BLUE)
label(479, 889, "28.36 B", color=ORANGE)

# 时间轴
for t, s in zip(month_t, month_labels):
    label(t, 1253, s, ha="center", weight="bold" if s == "2025" else "normal")

# TradingView 标志
ov.add_patch(Polygon([(20, 1301), (36, 1301), (36, 1319), (28, 1319), (28, 1308), (20, 1308)], fc="#d1d4dc", ec="none"))
ov.add_patch(Circle((45, 1304.5), 4, fc="#d1d4dc", ec="none"))
ov.add_patch(Polygon([(50, 1301), (59, 1301), (50, 1319), (41, 1319)], fc="#d1d4dc", ec="none"))
label(67, 1313, "TradingView", color="#d1d4dc", size=18)

assert len(bar_t) == len(bar_close) == len(bar_high) == len(bar_low)
assert len(macd_t) == len(macd_v) and len(signal_t) == len(signal_v) and len(hist_t) == len(hist_v)

fig.savefig("out.png", dpi=100, facecolor=DARK)
